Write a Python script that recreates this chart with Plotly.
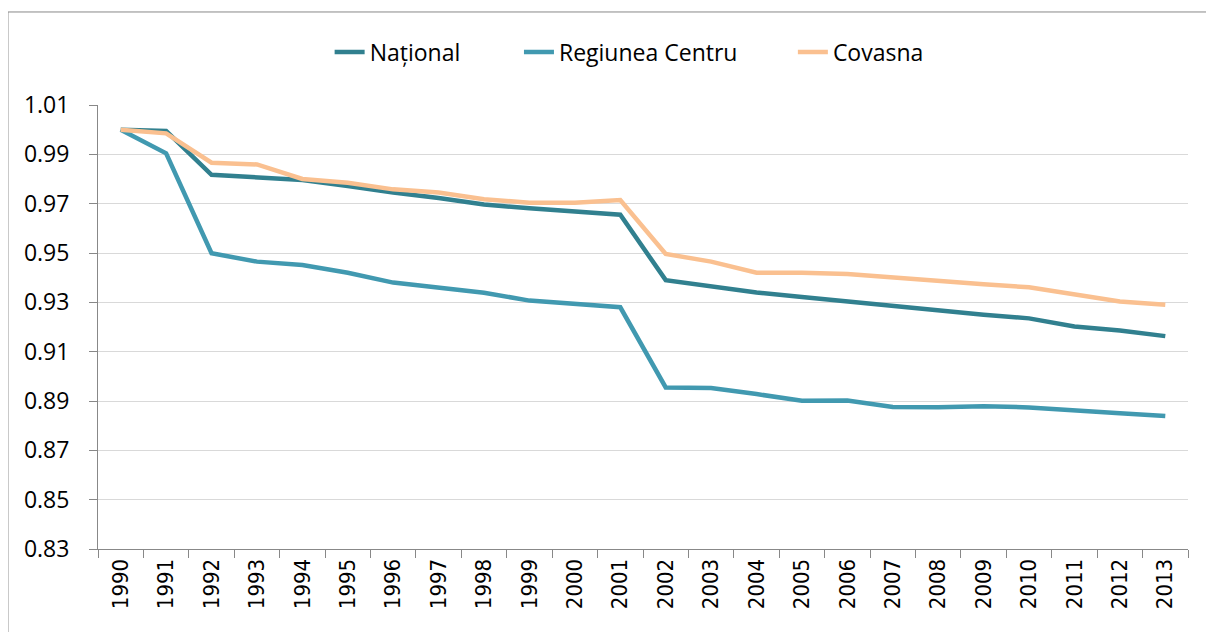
import plotly.graph_objects as go

years = [str(y) for y in range(1990, 2014)]
national = [1.0, 0.9995, 0.9817, 0.9807, 0.9796, 0.9772, 0.9745, 0.9723, 0.9697, 0.9681, 0.9670, 0.9655,
            0.9390, 0.9366, 0.9340, 0.9322, 0.9304, 0.9282, 0.9265, 0.9250, 0.9235, 0.9202, 0.9186, 0.9163]
centru = [1.0, 0.9904, 0.9499, 0.9465, 0.9451, 0.9420, 0.9380, 0.9359, 0.9339, 0.9307, 0.9293, 0.9280,
          0.8955, 0.8953, 0.8928, 0.8901, 0.8902, 0.8876, 0.8875, 0.8879, 0.8874, 0.8864, 0.8850, 0.8839]
covasna = [1.0, 0.9985, 0.9866, 0.9859, 0.9800, 0.9785, 0.9758, 0.9745, 0.9718, 0.9704, 0.9704, 0.9715,
           0.9496, 0.9465, 0.9420, 0.9420, 0.9415, 0.9400, 0.9384, 0.9373, 0.9361, 0.9334, 0.9303, 0.9290]

series = [("Național", national, "#31808F", "legend", 0.2125),
          ("Regiunea Centru", centru, "#4199B0", "legend2", 0.3862),
          ("Covasna", covasna, "#FAC090", "legend3", 0.6375)]

fig = go.Figure()
legend_layout = {}
for name, vals, col, lg, lx in series:
    fig.add_trace(go.Scatter(x=years, y=vals, name=name, mode="lines", legend=lg,
                             line=dict(color=col, width=4.5)))
    legend_layout[lg] = dict(orientation="h", x=lx, xanchor="left", y=1.119, yanchor="middle",
                             font=dict(size=23, family="Open Sans, sans-serif", color="black"),
                             bgcolor="rgba(0,0,0,0)", itemwidth=30)

fig.update_layout(
    width=1214, height=632,
    paper_bgcolor="white", plot_bgcolor="white",
    margin=dict(l=90, r=34, t=97, b=91),
    font=dict(family="Open Sans, sans-serif", size=22, color="black"),
    showlegend=True,
    **legend_layout,
)
fig.update_yaxes(range=[0.83, 1.01], dtick=0.02, tick0=0.83, tickformat=".2f",
                 ticklabelposition="outside", ticklabelstandoff=15,
                 showgrid=True, gridcolor="#D9D9D9", gridwidth=1,
                 showline=True, linecolor="#888888", linewidth=1,
                 ticks="outside", ticklen=8, tickcolor="#888888",
                 tickfont=dict(size=23, family="Open Sans, sans-serif"), zeroline=False)
fig.update_xaxes(type="category", range=[-0.5, 23.5], tickangle=-90, tickson="boundaries",
                 showline=True, linecolor="#888888", linewidth=1,
                 ticks="outside", ticklen=8, tickcolor="#888888",
                 showgrid=False,
                 tickfont=dict(size=22, family="DejaVu Sans Condensed, DejaVu Sans, sans-serif"))
fig.add_shape(type="rect", xref="paper", yref="paper", x0=-0.0826, x1=1.04, y0=-0.25, y1=1.2095,
              line=dict(color="#888888", width=1), fillcolor="rgba(0,0,0,0)", layer="below")
fig.write_html("out.html")
